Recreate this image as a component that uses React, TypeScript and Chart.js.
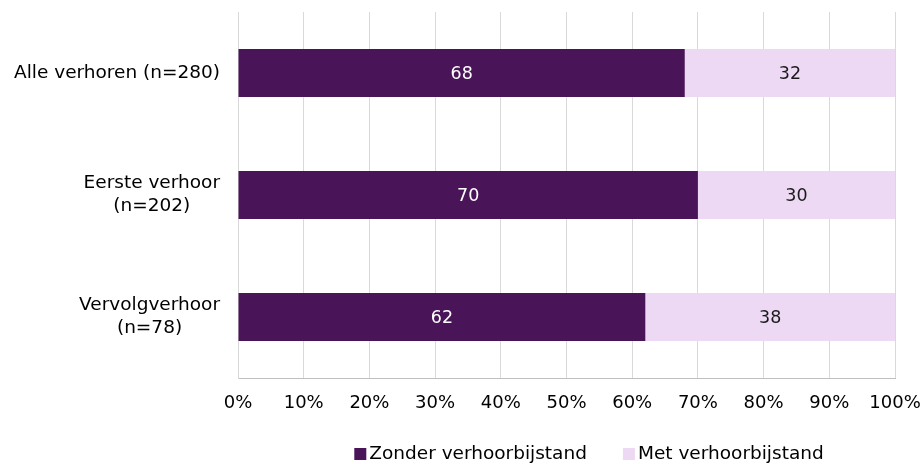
import React, { useEffect, useRef } from "react";
import { Chart, registerables } from "chart.js";

Chart.register(...registerables);

const categories: string[][] = [
  ["Alle verhoren (n=280)"],
  ["Eerste verhoor", "(n=202)"],
  ["Vervolgverhoor", "(n=78)"],
];
const seriesNames = ["Zonder verhoorbijstand", "Met verhoorbijstand"];
const zonder = [68, 70, 62];
const met = [32, 30, 38];
const xTickValues = [0, 10, 20, 30, 40, 50, 60, 70, 80, 90, 100];

const DARK = "#4A1558";
const LIGHT = "#EDD9F4";
const FONT = "'DejaVu Sans', Verdana, sans-serif";
const FS = 18.5;
const TICK_FS = 18;
const VAL_FS = 17.5;

const customPlugin = {
  id: "customDraw",
  afterDatasetsDraw(chart: any) {
    const ctx = chart.ctx;
    ctx.save();
    ctx.font = `${VAL_FS}px ${FONT}`;
    ctx.textAlign = "center";
    ctx.textBaseline = "middle";
    chart.data.datasets.forEach((ds: any, i: number) => {
      const meta = chart.getDatasetMeta(i);
      meta.data.forEach((bar: any, j: number) => {
        const cx = (bar.x + bar.base) / 2;
        ctx.fillStyle = i === 0 ? "#FFFFFF" : "#1A1A1A";
        ctx.fillText(String(ds.data[j]), cx, bar.y + 1);
      });
    });
    ctx.restore();
  },
  afterDraw(chart: any) {
    const ctx = chart.ctx;
    const yScale = chart.scales.y;
    ctx.save();
    ctx.font = `${FS}px ${FONT}`;
    ctx.fillStyle = "#000000";
    ctx.textBaseline = "middle";
    ctx.textAlign = "center";
    const blockRight = chart.chartArea.left - 18;
    const lh = 23;
    categories.forEach((lines, i) => {
      const cy = yScale.getPixelForValue(i);
      const w = Math.max(...lines.map((l) => ctx.measureText(l).width));
      const cx = blockRight - w / 2;
      const y0 = cy - ((lines.length - 1) * lh) / 2;
      lines.forEach((l, k) => ctx.fillText(l, cx, y0 + k * lh));
    });
    // legend
    const box = 12;
    const gap = 3;
    const itemGap = 36;
    const widths = seriesNames.map((n) => box + gap + ctx.measureText(n).width);
    const total = widths[0] + itemGap + widths[1];
    let x = 589 - total / 2;
    const ly = 454;
    ctx.textAlign = "left";
    seriesNames.forEach((n, i) => {
      ctx.fillStyle = i === 0 ? DARK : LIGHT;
      ctx.fillRect(x, ly - box / 2, box, box);
      ctx.fillStyle = "#000000";
      ctx.fillText(n, x + box + gap, ly);
      x += widths[i] + itemGap;
    });
    ctx.restore();
  },
};

export default function App() {
  const ref = useRef<HTMLCanvasElement | null>(null);
  useEffect(() => {
    document.body.style.margin = "0";
    let chart: any = null;
    let cancelled = false;
    const make = () => {
      if (cancelled || !ref.current) return;
      chart = new Chart(ref.current, {
        type: "bar",
        data: {
          labels: categories.map((c) => c.join(" ")),
          datasets: [
            {
              label: seriesNames[0],
              data: zonder,
              backgroundColor: DARK,
              barPercentage: 0.393,
              categoryPercentage: 1,
            },
            {
              label: seriesNames[1],
              data: met,
              backgroundColor: LIGHT,
              barPercentage: 0.393,
              categoryPercentage: 1,
            },
          ],
        },
        options: {
          indexAxis: "y",
          animation: false,
          responsive: false,
          maintainAspectRatio: false,
          layout: { padding: { top: 12, right: 0, bottom: 0, left: 0 } },
          plugins: {
            legend: { display: false },
            tooltip: { enabled: false },
          },
          scales: {
            x: {
              stacked: true,
              min: 0,
              max: 100,
              afterBuildTicks: (scale: any) => {
                scale.ticks = xTickValues.map((v) => ({ value: v }));
              },
              afterFit: (scale: any) => {
                scale.height = 86;
                scale.paddingLeft = 0;
                scale.paddingRight = 28;
              },
              grid: { color: "#D9D9D9", drawTicks: false, lineWidth: 1 },
              border: { display: true, color: "#BFBFBF" },
              ticks: {
                padding: 15,
                color: "#000000",
                font: { family: FONT, size: TICK_FS },
                callback: (v: any) => `${v}%`,
              },
            },
            y: {
              stacked: true,
              afterFit: (scale: any) => {
                scale.width = 238;
              },
              grid: { display: false },
              border: { display: true, color: "#D9D9D9" },
              ticks: { display: false },
            },
          },
        },
        plugins: [customPlugin],
      } as any);
    };
    const fonts: any = (document as any).fonts;
    if (fonts && fonts.load) {
      fonts.load(`${FS}px 'DejaVu Sans'`).then(make, make);
    } else {
      make();
    }
    return () => {
      cancelled = true;
      if (chart) chart.destroy();
    };
  }, []);
  return (
    <div style={{ width: 923, height: 464 }}>
      <canvas ref={ref} width={923} height={464} style={{ display: "block" }} />
    </div>
  );
}
